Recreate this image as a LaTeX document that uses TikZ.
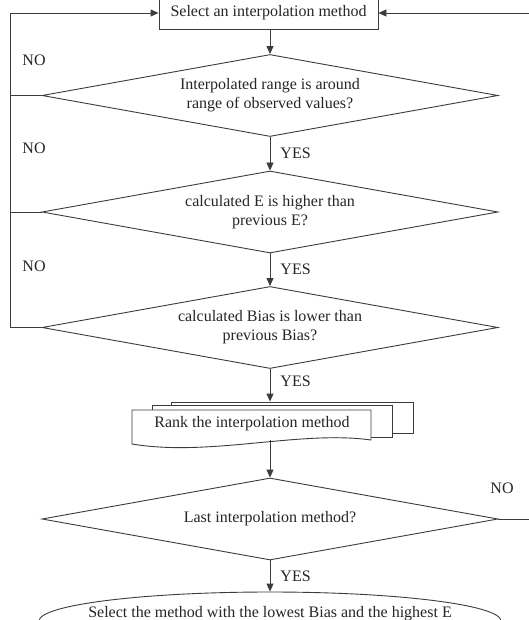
\documentclass[tikz,border=0pt]{standalone}
\usepackage{fontspec}
\setmainfont{Liberation Serif}
\usetikzlibrary{shapes.geometric,arrows.meta,calc}
\definecolor{ln}{HTML}{3C3C3C}
\definecolor{tx}{HTML}{262626}
\newcommand{\fs}{\fontsize{16}{19}\selectfont}
\begin{document}
\begin{tikzpicture}[x=1pt,y=-1pt,line width=0.9pt,
  box/.style={draw=ln,rectangle,fill=white,inner sep=0pt,text=tx,font=\fs},
  dec/.style={draw=ln,diamond,shape aspect=5.5,minimum width=456pt,minimum height=82pt,inner sep=0pt,align=center,text=tx,font=\fs},
  lab/.style={text=tx,inner sep=0pt,anchor=west,font=\fs},
  arr/.style={draw=ln,-{Triangle[length=8pt,width=7pt]}},
  con/.style={draw=ln}]
\useasboundingbox (0,0) rectangle (529,620);
\clip (0,0) rectangle (529,620);
\fill[white] (0,0) rectangle (529,620);

\node[box,minimum width=219pt,minimum height=32pt] (sel) at (268.5,13) {Select an interpolation method};
\node[dec] (d1) at (270,95.5) {Interpolated range is around\\range of observed values?};
\node[dec] (d2) at (270,212) {calculated E is higher than\\previous E?};
\node[dec] (d3) at (270,327.5) {calculated Bias is lower than\\previous Bias?};

\node[box,minimum width=242pt,minimum height=31pt] (back) at (292,417.5) {};
\node[box,minimum width=240pt,minimum height=32pt] (mid) at (272,421) {};
\draw[con,fill=white] (132,410) -- (371,410) -- (371,440) .. controls (300,430) and (210,457) .. (132,444) -- cycle;
\node[inner sep=0pt,minimum width=239pt,minimum height=32pt,text=tx,font=\fs] (front) at (252,424) {Rank the interpolation method};

\node[dec] (d4) at (270,519) {Last interpolation method?};
\node[ellipse,draw=ln,minimum width=462pt,minimum height=58pt,inner sep=0pt,text=tx,font=\fs] (fin) at (270,621)
  {\raisebox{4pt}[0pt][0pt]{\makebox[0pt]{Select the method with the lowest Bias and the highest E}}};

\draw[arr] (d1.north |- sel.south) -- (d1.north);
\draw[arr] (d1.south) -- (d2.north);
\draw[arr] (d2.south) -- (d3.north);
\draw[arr] (d3.south) -- (d3.south |- back.north);
\draw[arr] (d4.north |- front.south) -- (d4.north);
\draw[arr] (d4.south) -- (fin.north);

\coordinate (lb) at (10,327.5);
\coordinate (lt) at (10,13);
\draw[arr] (d3.west) -- (lb) -- (lt) -- (sel.west);
\draw[con] (d1.west) -- (d1.west -| lt);
\draw[con] (d2.west) -- (d2.west -| lt);
\coordinate (rt) at (535,13);
\draw[arr] (d4.east) -- (d4.east -| rt) -- (rt) -- (sel.east);

\node[lab] (no1) at (22,60) {NO};
\node[lab] (no2) at (22,148) {NO};
\node[lab] (no3) at (22,266) {NO};
\node[lab] (no4) at (490,488) {NO};
\node[lab] (yes1) at (280,153) {YES};
\node[lab] (yes2) at (280,269) {YES};
\node[lab] (yes3) at (280,381) {YES};
\node[lab] (yes4) at (280,576) {YES};
\end{tikzpicture}
\end{document}
